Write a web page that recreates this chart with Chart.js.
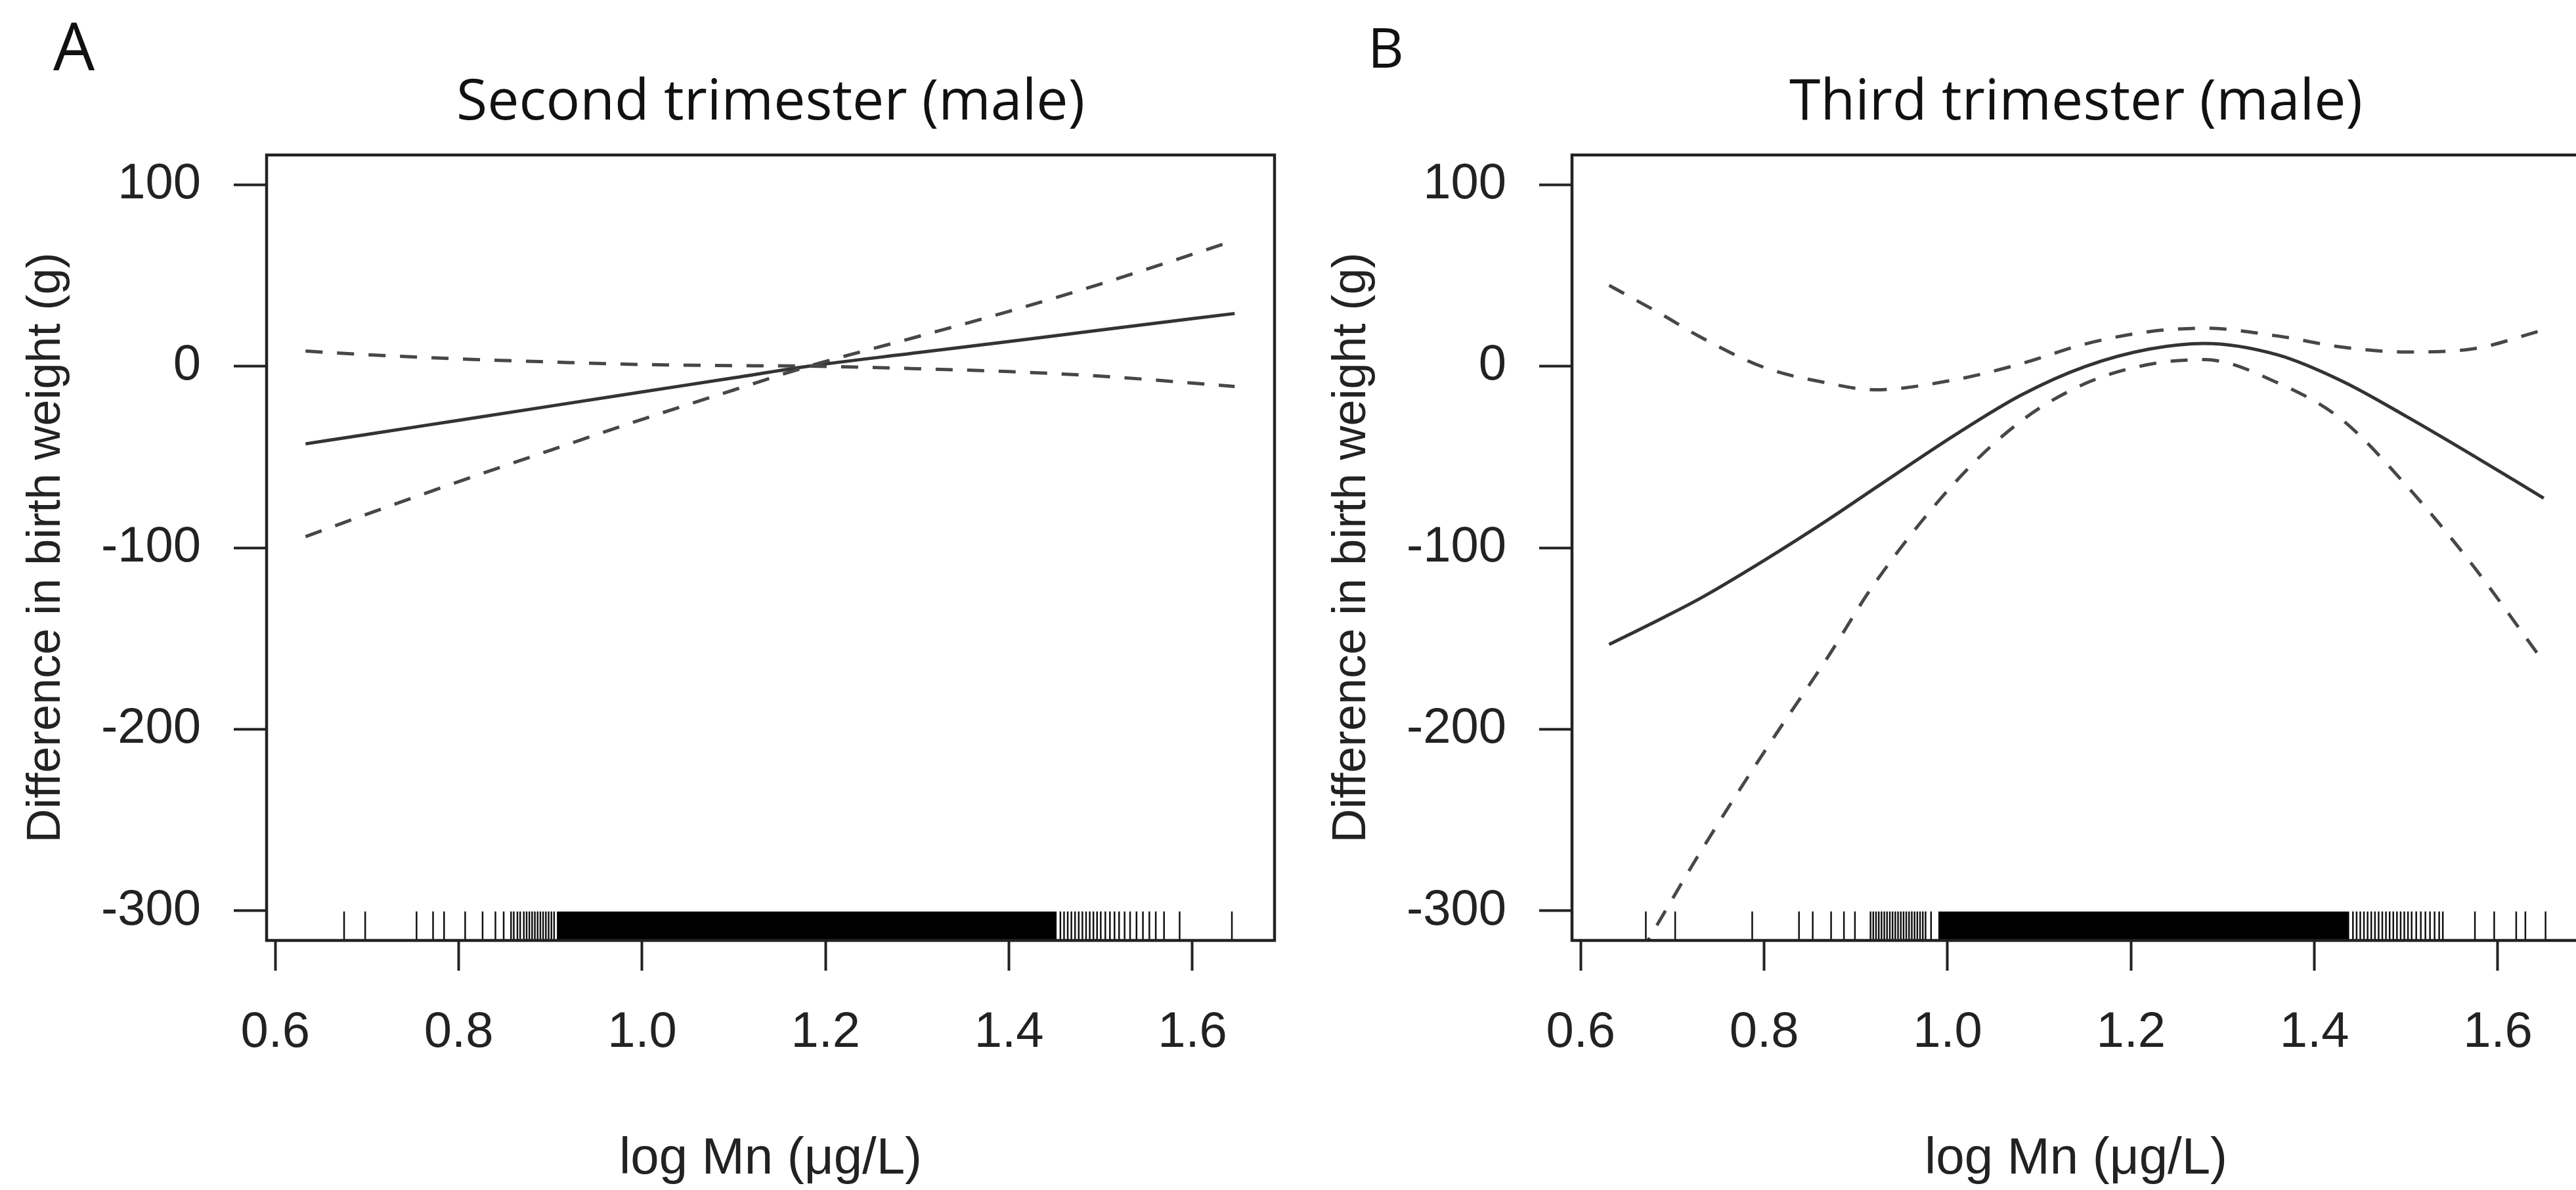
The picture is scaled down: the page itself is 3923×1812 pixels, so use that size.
<!DOCTYPE html>
<html>
<head>
<meta charset="utf-8">
<script src="https://cdn.jsdelivr.net/npm/chart.js@4.4.0/dist/chart.umd.min.js"></script>
<style>
  html, body { margin: 0; padding: 0; background: #fff; overflow: hidden; }
  body { width: 3923px; height: 1812px; position: relative; }
  canvas { position: absolute; top: 0; }
  .panel { position: absolute; font-family: 'Open Sans', sans-serif; line-height: 1; color: #111; }
</style>
</head>
<body>
<div class="panel" style="left:81px;top:18px;font-size:100px">A</div>
<div class="panel" style="left:2083px;top:28px;font-size:85px">B</div>
<canvas id="chartA" width="1988" height="1812" style="left:0"></canvas>
<canvas id="chartB" width="1988" height="1812" style="left:1988px"></canvas>
<script>
// panel A - second trimester (male)
const xA     = [0.633, 0.7, 0.8, 0.9, 1.0, 1.1, 1.182, 1.3, 1.4, 1.5, 1.646];
const fitA   = [-42.8, -37.6, -29.8, -22.0, -14.2, -6.4, 0, 7.4, 13.6, 19.9, 29.0];
const upperA = [8.3, 6.3, 4.0, 2.3, 0.9, 0.3, 0, -1.4, -3.0, -5.5, -11.2];
const lowerA = [-93.9, -81.5, -63.6, -46.3, -29.3, -13.1, 0, 16.2, 30.2, 45.3, 69.2];
const rugA   = [0.675, 0.698, 0.754, 0.772, 0.784, 0.807, 0.826, 0.840, 0.849,
                0.857, 0.860, 0.864, 0.867, 0.871, 0.874, 0.877, 0.880, 0.883, 0.886,
                0.889, 0.892, 0.895, 0.898, 0.901, 0.904,
                1.456, 1.460, 1.464, 1.468, 1.472, 1.476, 1.480, 1.484, 1.488, 1.492,
                1.496, 1.500, 1.505, 1.510, 1.515, 1.520, 1.526, 1.532, 1.539, 1.546,
                1.553, 1.560, 1.569, 1.586, 1.643];
const rugDenseA = [0.907, 1.452];

// panel B - third trimester (male)
const xB     = [0.631, 0.69, 0.73, 0.80, 0.87, 0.92, 1.01, 1.08, 1.15, 1.22, 1.28, 1.36, 1.43, 1.50, 1.57, 1.65];
const fitB   = [-153.3, -138.5, -128, -107, -84.5, -67.5, -37.3, -16.0, -0.2, 9.4, 12.5, 6.2, -8.2, -27.6, -48.3, -72.7];
const upperB = [44.5, 28, 16.2, -0.7, -9.4, -13.0, -7.3, 1.3, 12.2, 19.0, 20.9, 16.6, 10.5, 7.8, 9.3, 20.0];
const lowerB = [-353, -302, -268, -212.5, -159.8, -120, -63, -30.3, -9.6, 1.0, 3.6, -9.2, -29.5, -65.6, -108, -163];
const rugB   = [0.671, 0.703, 0.787, 0.838, 0.853, 0.873, 0.887, 0.899,
                0.916, 0.919, 0.922, 0.925, 0.928, 0.931, 0.934, 0.937, 0.940, 0.943,
                0.946, 0.949, 0.952, 0.955, 0.958, 0.961, 0.964, 0.967, 0.970, 0.973, 0.976, 0.982,
                1.442, 1.446, 1.450, 1.454, 1.458, 1.462, 1.466, 1.470, 1.474, 1.478,
                1.482, 1.486, 1.490, 1.494, 1.498, 1.502, 1.506, 1.511, 1.516, 1.521,
                1.526, 1.531, 1.536, 1.540,
                1.575, 1.596, 1.620, 1.630, 1.652];
const rugDenseB = [0.990, 1.438];

const xTicks = [0.6, 0.8, 1.0, 1.2, 1.4, 1.6];
const yTicks = [-300, -200, -100, 0, 100];

Chart.defaults.font.family = 'Liberation Sans';
Chart.defaults.color = '#222';

const RUG_Y = -308.3;   // centre of rug marks
const RUG_TOP = -300.4;

// R-style box around plot region
const boxPlugin = {
  id: 'box',
  afterDatasetsDraw(chart) {
    const {ctx, chartArea: a} = chart;
    ctx.save();
    ctx.strokeStyle = '#222';
    ctx.lineWidth = 4.5;
    ctx.strokeRect(a.left, a.top, a.right - a.left, a.bottom - a.top);
    ctx.restore();
  }
};

function pts(xs, ys) {
  return xs.map((x, i) => ({x: x, y: ys[i]}));
}

function makeChart(id, title, xs, fit, upper, lower, rug, dense) {
  const ctx = document.getElementById(id).getContext('2d');
  return new Chart(ctx, {
    type: 'line',
    data: {
      datasets: [
        {data: rug.map(x => ({x: x, y: RUG_Y})), showLine: false, pointStyle: 'line', rotation: 90,
         pointRadius: 22, pointBorderWidth: 2.5, pointBorderColor: '#111', pointBackgroundColor: '#111'},
        {data: dense.map(x => ({x: x, y: RUG_TOP})), fill: 'start', backgroundColor: '#000',
         borderWidth: 0, pointRadius: 0},
        {data: pts(xs, lower), borderColor: '#474747', borderWidth: 5, borderDash: [26, 22],
         pointRadius: 0, cubicInterpolationMode: 'monotone', fill: false},
        {data: pts(xs, upper), borderColor: '#474747', borderWidth: 5, borderDash: [26, 22],
         pointRadius: 0, cubicInterpolationMode: 'monotone', fill: false},
        {data: pts(xs, fit), borderColor: '#333', borderWidth: 5,
         pointRadius: 0, cubicInterpolationMode: 'monotone', fill: false}
      ]
    },
    options: {
      responsive: false,
      animation: false,
      devicePixelRatio: 1,
      layout: {padding: {top: 0, left: 0, right: 47, bottom: 0}},
      plugins: {
        legend: {display: false},
        tooltip: {enabled: false},
        title: {
          display: true, text: title, fullSize: false, color: '#111',
          font: {family: 'Open Sans', size: 86, weight: 'normal'},
          padding: {top: 106, bottom: 26.8}
        }
      },
      scales: {
        x: {
          type: 'linear', min: 0.5905, max: 1.6895,
          afterFit: s => { s.height = 380; },
          afterBuildTicks: s => { s.ticks = xTicks.map(v => ({value: v})); },
          border: {display: false},
          grid: {drawOnChartArea: false, tickLength: 46, tickWidth: 4, tickColor: '#222'},
          ticks: {autoSkip: false, maxRotation: 0, padding: 49, font: {size: 76},
                  callback: v => v.toFixed(1)},
          title: {display: true, text: 'log Mn (μg/L)', font: {size: 78}, padding: {top: 0, bottom: 0}}
        },
        y: {
          type: 'linear', min: -316.3, max: 116.3,
          afterFit: s => { s.width = 406; },
          afterBuildTicks: s => { s.ticks = yTicks.map(v => ({value: v})); },
          border: {display: false},
          grid: {drawOnChartArea: false, tickLength: 50, tickWidth: 4, tickColor: '#222'},
          ticks: {padding: 50, font: {size: 76}, callback: v => String(v)},
          title: {display: true, text: 'Difference in birth weight (g)', font: {size: 72},
                  padding: {top: 28, bottom: 0}}
        }
      }
    },
    plugins: [boxPlugin]
  });
}

makeChart('chartA', 'Second trimester (male)', xA, fitA, upperA, lowerA, rugA, rugDenseA);
makeChart('chartB', 'Third trimester (male)', xB, fitB, upperB, lowerB, rugB, rugDenseB);
</script>
</body>
</html>
